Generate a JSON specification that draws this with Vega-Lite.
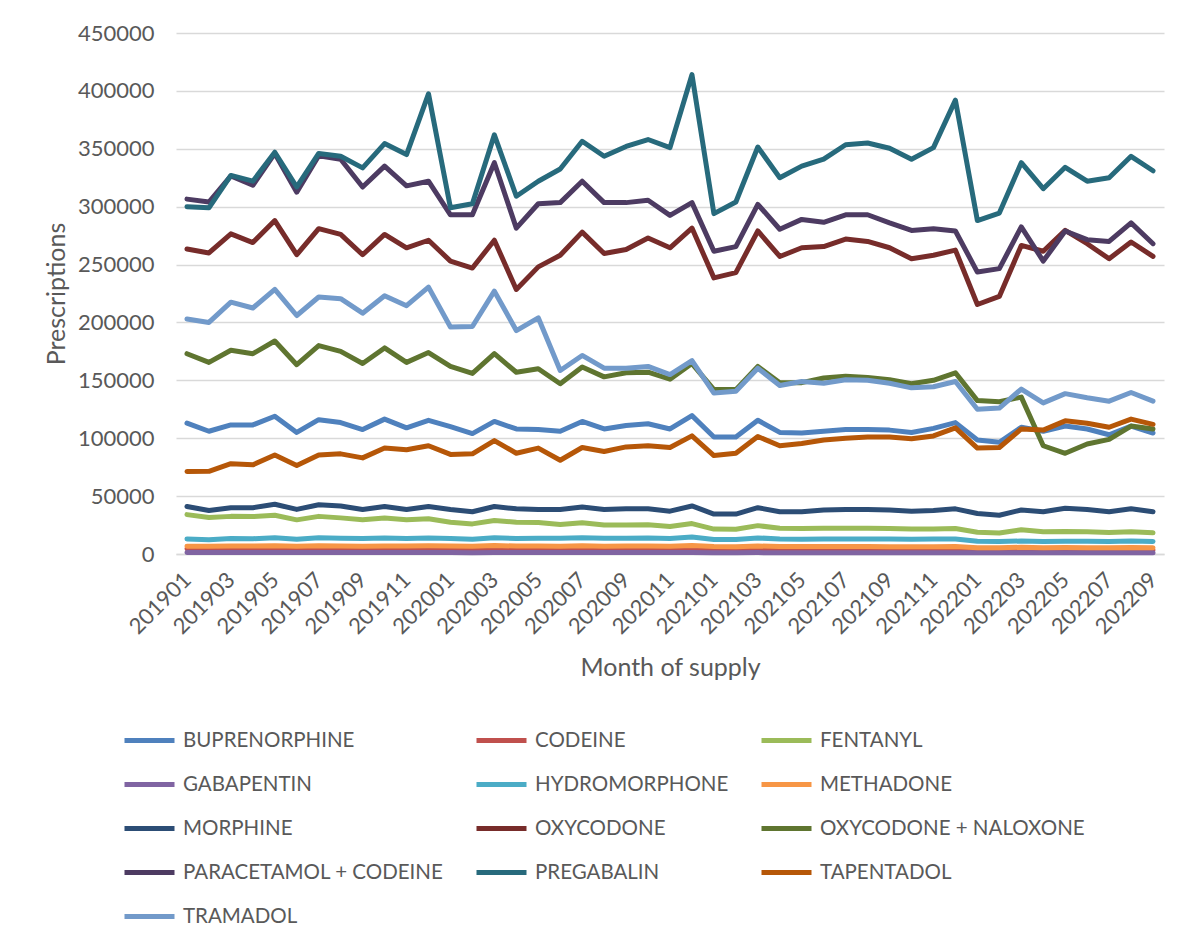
{
  "$schema": "https://vega.github.io/schema/vega-lite/v6.json",
  "autosize": {"type": "none"},
  "padding": {"left": 176, "top": 33, "right": 34, "bottom": 397},
  "width": 988,
  "height": 521,
  "background": "white",
  "config": {
    "font": "Lato",
    "view": {"stroke": null},
    "axis": {"labelColor": "#595959", "titleColor": "#595959", "labelFont": "Lato", "titleFont": "Lato", "titleFontWeight": "normal"},
    "legend": {"labelColor": "#595959", "labelFont": "Lato"}
  },
  "datasets": {
    "rx": [
{"month":"201901","drug":"BUPRENORPHINE","value":113000},{"month":"201902","drug":"BUPRENORPHINE","value":106000},{"month":"201903","drug":"BUPRENORPHINE","value":111500},{"month":"201904","drug":"BUPRENORPHINE","value":111500},{"month":"201905","drug":"BUPRENORPHINE","value":119000},{"month":"201906","drug":"BUPRENORPHINE","value":105000},{"month":"201907","drug":"BUPRENORPHINE","value":116000},{"month":"201908","drug":"BUPRENORPHINE","value":113500},{"month":"201909","drug":"BUPRENORPHINE","value":107500},{"month":"201910","drug":"BUPRENORPHINE","value":116500},{"month":"201911","drug":"BUPRENORPHINE","value":109000},{"month":"201912","drug":"BUPRENORPHINE","value":115500},
{"month":"202001","drug":"BUPRENORPHINE","value":110000},{"month":"202002","drug":"BUPRENORPHINE","value":104000},{"month":"202003","drug":"BUPRENORPHINE","value":114500},{"month":"202004","drug":"BUPRENORPHINE","value":108000},{"month":"202005","drug":"BUPRENORPHINE","value":107500},{"month":"202006","drug":"BUPRENORPHINE","value":106000},{"month":"202007","drug":"BUPRENORPHINE","value":114500},{"month":"202008","drug":"BUPRENORPHINE","value":108000},{"month":"202009","drug":"BUPRENORPHINE","value":111000},{"month":"202010","drug":"BUPRENORPHINE","value":112500},{"month":"202011","drug":"BUPRENORPHINE","value":108000},{"month":"202012","drug":"BUPRENORPHINE","value":119500},
{"month":"202101","drug":"BUPRENORPHINE","value":101000},{"month":"202102","drug":"BUPRENORPHINE","value":101000},{"month":"202103","drug":"BUPRENORPHINE","value":115500},{"month":"202104","drug":"BUPRENORPHINE","value":105000},{"month":"202105","drug":"BUPRENORPHINE","value":104500},{"month":"202106","drug":"BUPRENORPHINE","value":106000},{"month":"202107","drug":"BUPRENORPHINE","value":107500},{"month":"202108","drug":"BUPRENORPHINE","value":107500},{"month":"202109","drug":"BUPRENORPHINE","value":107000},{"month":"202110","drug":"BUPRENORPHINE","value":105000},{"month":"202111","drug":"BUPRENORPHINE","value":108500},{"month":"202112","drug":"BUPRENORPHINE","value":113500},
{"month":"202201","drug":"BUPRENORPHINE","value":98500},{"month":"202202","drug":"BUPRENORPHINE","value":96500},{"month":"202203","drug":"BUPRENORPHINE","value":109500},{"month":"202204","drug":"BUPRENORPHINE","value":106000},{"month":"202205","drug":"BUPRENORPHINE","value":110500},{"month":"202206","drug":"BUPRENORPHINE","value":108000},{"month":"202207","drug":"BUPRENORPHINE","value":103000},{"month":"202208","drug":"BUPRENORPHINE","value":110500},{"month":"202209","drug":"BUPRENORPHINE","value":104500},

{"month":"201901","drug":"CODEINE","value":4500},{"month":"201902","drug":"CODEINE","value":4300},{"month":"201903","drug":"CODEINE","value":4500},{"month":"201904","drug":"CODEINE","value":4400},{"month":"201905","drug":"CODEINE","value":4600},{"month":"201906","drug":"CODEINE","value":4300},{"month":"201907","drug":"CODEINE","value":4500},{"month":"201908","drug":"CODEINE","value":4500},{"month":"201909","drug":"CODEINE","value":4300},{"month":"201910","drug":"CODEINE","value":4500},{"month":"201911","drug":"CODEINE","value":4400},{"month":"201912","drug":"CODEINE","value":4600},
{"month":"202001","drug":"CODEINE","value":4400},{"month":"202002","drug":"CODEINE","value":4200},{"month":"202003","drug":"CODEINE","value":4700},{"month":"202004","drug":"CODEINE","value":4400},{"month":"202005","drug":"CODEINE","value":4400},{"month":"202006","drug":"CODEINE","value":4300},{"month":"202007","drug":"CODEINE","value":4500},{"month":"202008","drug":"CODEINE","value":4300},{"month":"202009","drug":"CODEINE","value":4400},{"month":"202010","drug":"CODEINE","value":4400},{"month":"202011","drug":"CODEINE","value":4300},{"month":"202012","drug":"CODEINE","value":4700},
{"month":"202101","drug":"CODEINE","value":4100},{"month":"202102","drug":"CODEINE","value":4000},{"month":"202103","drug":"CODEINE","value":4400},{"month":"202104","drug":"CODEINE","value":4100},{"month":"202105","drug":"CODEINE","value":4100},{"month":"202106","drug":"CODEINE","value":4100},{"month":"202107","drug":"CODEINE","value":4100},{"month":"202108","drug":"CODEINE","value":4100},{"month":"202109","drug":"CODEINE","value":4000},{"month":"202110","drug":"CODEINE","value":4000},{"month":"202111","drug":"CODEINE","value":4000},{"month":"202112","drug":"CODEINE","value":4100},
{"month":"202201","drug":"CODEINE","value":3600},{"month":"202202","drug":"CODEINE","value":3500},{"month":"202203","drug":"CODEINE","value":3800},{"month":"202204","drug":"CODEINE","value":3600},{"month":"202205","drug":"CODEINE","value":3700},{"month":"202206","drug":"CODEINE","value":3600},{"month":"202207","drug":"CODEINE","value":3500},{"month":"202208","drug":"CODEINE","value":3700},{"month":"202209","drug":"CODEINE","value":3500},

{"month":"201901","drug":"FENTANYL","value":34000},{"month":"201902","drug":"FENTANYL","value":31500},{"month":"201903","drug":"FENTANYL","value":32500},{"month":"201904","drug":"FENTANYL","value":32300},{"month":"201905","drug":"FENTANYL","value":33500},{"month":"201906","drug":"FENTANYL","value":29500},{"month":"201907","drug":"FENTANYL","value":32500},{"month":"201908","drug":"FENTANYL","value":31200},{"month":"201909","drug":"FENTANYL","value":29500},{"month":"201910","drug":"FENTANYL","value":31000},{"month":"201911","drug":"FENTANYL","value":29500},{"month":"201912","drug":"FENTANYL","value":30500},
{"month":"202001","drug":"FENTANYL","value":27500},{"month":"202002","drug":"FENTANYL","value":26000},{"month":"202003","drug":"FENTANYL","value":29000},{"month":"202004","drug":"FENTANYL","value":27500},{"month":"202005","drug":"FENTANYL","value":27200},{"month":"202006","drug":"FENTANYL","value":25500},{"month":"202007","drug":"FENTANYL","value":27000},{"month":"202008","drug":"FENTANYL","value":25000},{"month":"202009","drug":"FENTANYL","value":25000},{"month":"202010","drug":"FENTANYL","value":25200},{"month":"202011","drug":"FENTANYL","value":23800},{"month":"202012","drug":"FENTANYL","value":26300},
{"month":"202101","drug":"FENTANYL","value":21500},{"month":"202102","drug":"FENTANYL","value":21300},{"month":"202103","drug":"FENTANYL","value":24500},{"month":"202104","drug":"FENTANYL","value":22200},{"month":"202105","drug":"FENTANYL","value":22000},{"month":"202106","drug":"FENTANYL","value":22300},{"month":"202107","drug":"FENTANYL","value":22300},{"month":"202108","drug":"FENTANYL","value":22200},{"month":"202109","drug":"FENTANYL","value":22000},{"month":"202110","drug":"FENTANYL","value":21500},{"month":"202111","drug":"FENTANYL","value":21500},{"month":"202112","drug":"FENTANYL","value":22000},
{"month":"202201","drug":"FENTANYL","value":18800},{"month":"202202","drug":"FENTANYL","value":18200},{"month":"202203","drug":"FENTANYL","value":21000},{"month":"202204","drug":"FENTANYL","value":19200},{"month":"202205","drug":"FENTANYL","value":19500},{"month":"202206","drug":"FENTANYL","value":19200},{"month":"202207","drug":"FENTANYL","value":18500},{"month":"202208","drug":"FENTANYL","value":19200},{"month":"202209","drug":"FENTANYL","value":18300},

{"month":"201901","drug":"GABAPENTIN","value":1300},{"month":"201902","drug":"GABAPENTIN","value":1200},{"month":"201903","drug":"GABAPENTIN","value":1300},{"month":"201904","drug":"GABAPENTIN","value":1300},{"month":"201905","drug":"GABAPENTIN","value":1400},{"month":"201906","drug":"GABAPENTIN","value":1200},{"month":"201907","drug":"GABAPENTIN","value":1300},{"month":"201908","drug":"GABAPENTIN","value":1300},{"month":"201909","drug":"GABAPENTIN","value":1200},{"month":"201910","drug":"GABAPENTIN","value":1300},{"month":"201911","drug":"GABAPENTIN","value":1200},{"month":"201912","drug":"GABAPENTIN","value":1300},
{"month":"202001","drug":"GABAPENTIN","value":1200},{"month":"202002","drug":"GABAPENTIN","value":1100},{"month":"202003","drug":"GABAPENTIN","value":1300},{"month":"202004","drug":"GABAPENTIN","value":1200},{"month":"202005","drug":"GABAPENTIN","value":1200},{"month":"202006","drug":"GABAPENTIN","value":1200},{"month":"202007","drug":"GABAPENTIN","value":1300},{"month":"202008","drug":"GABAPENTIN","value":1200},{"month":"202009","drug":"GABAPENTIN","value":1200},{"month":"202010","drug":"GABAPENTIN","value":1200},{"month":"202011","drug":"GABAPENTIN","value":1200},{"month":"202012","drug":"GABAPENTIN","value":1300},
{"month":"202101","drug":"GABAPENTIN","value":1100},{"month":"202102","drug":"GABAPENTIN","value":1100},{"month":"202103","drug":"GABAPENTIN","value":1200},{"month":"202104","drug":"GABAPENTIN","value":1100},{"month":"202105","drug":"GABAPENTIN","value":1100},{"month":"202106","drug":"GABAPENTIN","value":1100},{"month":"202107","drug":"GABAPENTIN","value":1100},{"month":"202108","drug":"GABAPENTIN","value":1100},{"month":"202109","drug":"GABAPENTIN","value":1100},{"month":"202110","drug":"GABAPENTIN","value":1100},{"month":"202111","drug":"GABAPENTIN","value":1100},{"month":"202112","drug":"GABAPENTIN","value":1100},
{"month":"202201","drug":"GABAPENTIN","value":1000},{"month":"202202","drug":"GABAPENTIN","value":1000},{"month":"202203","drug":"GABAPENTIN","value":1100},{"month":"202204","drug":"GABAPENTIN","value":1000},{"month":"202205","drug":"GABAPENTIN","value":1000},{"month":"202206","drug":"GABAPENTIN","value":1000},{"month":"202207","drug":"GABAPENTIN","value":1000},{"month":"202208","drug":"GABAPENTIN","value":1000},{"month":"202209","drug":"GABAPENTIN","value":1000},

{"month":"201901","drug":"HYDROMORPHONE","value":13000},{"month":"201902","drug":"HYDROMORPHONE","value":12400},{"month":"201903","drug":"HYDROMORPHONE","value":13300},{"month":"201904","drug":"HYDROMORPHONE","value":13200},{"month":"201905","drug":"HYDROMORPHONE","value":14000},{"month":"201906","drug":"HYDROMORPHONE","value":12800},{"month":"201907","drug":"HYDROMORPHONE","value":14000},{"month":"201908","drug":"HYDROMORPHONE","value":13700},{"month":"201909","drug":"HYDROMORPHONE","value":13400},{"month":"201910","drug":"HYDROMORPHONE","value":13800},{"month":"201911","drug":"HYDROMORPHONE","value":13300},{"month":"201912","drug":"HYDROMORPHONE","value":13900},
{"month":"202001","drug":"HYDROMORPHONE","value":13300},{"month":"202002","drug":"HYDROMORPHONE","value":12800},{"month":"202003","drug":"HYDROMORPHONE","value":14000},{"month":"202004","drug":"HYDROMORPHONE","value":13400},{"month":"202005","drug":"HYDROMORPHONE","value":13600},{"month":"202006","drug":"HYDROMORPHONE","value":13600},{"month":"202007","drug":"HYDROMORPHONE","value":14100},{"month":"202008","drug":"HYDROMORPHONE","value":13600},{"month":"202009","drug":"HYDROMORPHONE","value":13700},{"month":"202010","drug":"HYDROMORPHONE","value":13800},{"month":"202011","drug":"HYDROMORPHONE","value":13400},{"month":"202012","drug":"HYDROMORPHONE","value":14700},
{"month":"202101","drug":"HYDROMORPHONE","value":12600},{"month":"202102","drug":"HYDROMORPHONE","value":12500},{"month":"202103","drug":"HYDROMORPHONE","value":13900},{"month":"202104","drug":"HYDROMORPHONE","value":12900},{"month":"202105","drug":"HYDROMORPHONE","value":12800},{"month":"202106","drug":"HYDROMORPHONE","value":12900},{"month":"202107","drug":"HYDROMORPHONE","value":12900},{"month":"202108","drug":"HYDROMORPHONE","value":12900},{"month":"202109","drug":"HYDROMORPHONE","value":12900},{"month":"202110","drug":"HYDROMORPHONE","value":12800},{"month":"202111","drug":"HYDROMORPHONE","value":12900},{"month":"202112","drug":"HYDROMORPHONE","value":13000},
{"month":"202201","drug":"HYDROMORPHONE","value":11100},{"month":"202202","drug":"HYDROMORPHONE","value":10700},{"month":"202203","drug":"HYDROMORPHONE","value":11200},{"month":"202204","drug":"HYDROMORPHONE","value":10900},{"month":"202205","drug":"HYDROMORPHONE","value":11100},{"month":"202206","drug":"HYDROMORPHONE","value":11100},{"month":"202207","drug":"HYDROMORPHONE","value":10900},{"month":"202208","drug":"HYDROMORPHONE","value":11200},{"month":"202209","drug":"HYDROMORPHONE","value":10900},

{"month":"201901","drug":"METHADONE","value":6800},{"month":"201902","drug":"METHADONE","value":6700},{"month":"201903","drug":"METHADONE","value":6900},{"month":"201904","drug":"METHADONE","value":6900},{"month":"201905","drug":"METHADONE","value":7100},{"month":"201906","drug":"METHADONE","value":6700},{"month":"201907","drug":"METHADONE","value":7100},{"month":"201908","drug":"METHADONE","value":7000},{"month":"201909","drug":"METHADONE","value":6800},{"month":"201910","drug":"METHADONE","value":7000},{"month":"201911","drug":"METHADONE","value":6900},{"month":"201912","drug":"METHADONE","value":7100},
{"month":"202001","drug":"METHADONE","value":6900},{"month":"202002","drug":"METHADONE","value":6700},{"month":"202003","drug":"METHADONE","value":7300},{"month":"202004","drug":"METHADONE","value":6900},{"month":"202005","drug":"METHADONE","value":6900},{"month":"202006","drug":"METHADONE","value":6800},{"month":"202007","drug":"METHADONE","value":7100},{"month":"202008","drug":"METHADONE","value":6800},{"month":"202009","drug":"METHADONE","value":6900},{"month":"202010","drug":"METHADONE","value":6900},{"month":"202011","drug":"METHADONE","value":6800},{"month":"202012","drug":"METHADONE","value":7300},
{"month":"202101","drug":"METHADONE","value":6400},{"month":"202102","drug":"METHADONE","value":6300},{"month":"202103","drug":"METHADONE","value":6900},{"month":"202104","drug":"METHADONE","value":6500},{"month":"202105","drug":"METHADONE","value":6400},{"month":"202106","drug":"METHADONE","value":6400},{"month":"202107","drug":"METHADONE","value":6400},{"month":"202108","drug":"METHADONE","value":6400},{"month":"202109","drug":"METHADONE","value":6300},{"month":"202110","drug":"METHADONE","value":6200},{"month":"202111","drug":"METHADONE","value":6200},{"month":"202112","drug":"METHADONE","value":6400},
{"month":"202201","drug":"METHADONE","value":5500},{"month":"202202","drug":"METHADONE","value":5300},{"month":"202203","drug":"METHADONE","value":5800},{"month":"202204","drug":"METHADONE","value":5500},{"month":"202205","drug":"METHADONE","value":5600},{"month":"202206","drug":"METHADONE","value":5500},{"month":"202207","drug":"METHADONE","value":5400},{"month":"202208","drug":"METHADONE","value":5700},{"month":"202209","drug":"METHADONE","value":5400},

{"month":"201901","drug":"MORPHINE","value":41000},{"month":"201902","drug":"MORPHINE","value":37500},{"month":"201903","drug":"MORPHINE","value":40000},{"month":"201904","drug":"MORPHINE","value":40000},{"month":"201905","drug":"MORPHINE","value":43000},{"month":"201906","drug":"MORPHINE","value":38500},{"month":"201907","drug":"MORPHINE","value":42500},{"month":"201908","drug":"MORPHINE","value":41500},{"month":"201909","drug":"MORPHINE","value":38500},{"month":"201910","drug":"MORPHINE","value":41000},{"month":"201911","drug":"MORPHINE","value":38500},{"month":"201912","drug":"MORPHINE","value":41000},
{"month":"202001","drug":"MORPHINE","value":38500},{"month":"202002","drug":"MORPHINE","value":36500},{"month":"202003","drug":"MORPHINE","value":41000},{"month":"202004","drug":"MORPHINE","value":39000},{"month":"202005","drug":"MORPHINE","value":38500},{"month":"202006","drug":"MORPHINE","value":38500},{"month":"202007","drug":"MORPHINE","value":40500},{"month":"202008","drug":"MORPHINE","value":38500},{"month":"202009","drug":"MORPHINE","value":39000},{"month":"202010","drug":"MORPHINE","value":39000},{"month":"202011","drug":"MORPHINE","value":37000},{"month":"202012","drug":"MORPHINE","value":41500},
{"month":"202101","drug":"MORPHINE","value":34500},{"month":"202102","drug":"MORPHINE","value":34500},{"month":"202103","drug":"MORPHINE","value":40000},{"month":"202104","drug":"MORPHINE","value":36500},{"month":"202105","drug":"MORPHINE","value":36500},{"month":"202106","drug":"MORPHINE","value":38000},{"month":"202107","drug":"MORPHINE","value":38500},{"month":"202108","drug":"MORPHINE","value":38500},{"month":"202109","drug":"MORPHINE","value":38000},{"month":"202110","drug":"MORPHINE","value":37000},{"month":"202111","drug":"MORPHINE","value":37500},{"month":"202112","drug":"MORPHINE","value":39000},
{"month":"202201","drug":"MORPHINE","value":35000},{"month":"202202","drug":"MORPHINE","value":33500},{"month":"202203","drug":"MORPHINE","value":38000},{"month":"202204","drug":"MORPHINE","value":36500},{"month":"202205","drug":"MORPHINE","value":39500},{"month":"202206","drug":"MORPHINE","value":38500},{"month":"202207","drug":"MORPHINE","value":36500},{"month":"202208","drug":"MORPHINE","value":39000},{"month":"202209","drug":"MORPHINE","value":36500},

{"month":"201901","drug":"OXYCODONE","value":263500},{"month":"201902","drug":"OXYCODONE","value":260000},{"month":"201903","drug":"OXYCODONE","value":276500},{"month":"201904","drug":"OXYCODONE","value":269000},{"month":"201905","drug":"OXYCODONE","value":288000},{"month":"201906","drug":"OXYCODONE","value":258500},{"month":"201907","drug":"OXYCODONE","value":281000},{"month":"201908","drug":"OXYCODONE","value":276000},{"month":"201909","drug":"OXYCODONE","value":258500},{"month":"201910","drug":"OXYCODONE","value":276000},{"month":"201911","drug":"OXYCODONE","value":264500},{"month":"201912","drug":"OXYCODONE","value":271000},
{"month":"202001","drug":"OXYCODONE","value":253000},{"month":"202002","drug":"OXYCODONE","value":247000},{"month":"202003","drug":"OXYCODONE","value":271000},{"month":"202004","drug":"OXYCODONE","value":228500},{"month":"202005","drug":"OXYCODONE","value":248000},{"month":"202006","drug":"OXYCODONE","value":258000},{"month":"202007","drug":"OXYCODONE","value":278000},{"month":"202008","drug":"OXYCODONE","value":259500},{"month":"202009","drug":"OXYCODONE","value":263000},{"month":"202010","drug":"OXYCODONE","value":273000},{"month":"202011","drug":"OXYCODONE","value":264500},{"month":"202012","drug":"OXYCODONE","value":281500},
{"month":"202101","drug":"OXYCODONE","value":238500},{"month":"202102","drug":"OXYCODONE","value":243000},{"month":"202103","drug":"OXYCODONE","value":279000},{"month":"202104","drug":"OXYCODONE","value":257000},{"month":"202105","drug":"OXYCODONE","value":264500},{"month":"202106","drug":"OXYCODONE","value":265500},{"month":"202107","drug":"OXYCODONE","value":272000},{"month":"202108","drug":"OXYCODONE","value":270000},{"month":"202109","drug":"OXYCODONE","value":264500},{"month":"202110","drug":"OXYCODONE","value":255000},{"month":"202111","drug":"OXYCODONE","value":258000},{"month":"202112","drug":"OXYCODONE","value":262500},
{"month":"202201","drug":"OXYCODONE","value":215500},{"month":"202202","drug":"OXYCODONE","value":222500},{"month":"202203","drug":"OXYCODONE","value":266500},{"month":"202204","drug":"OXYCODONE","value":261500},{"month":"202205","drug":"OXYCODONE","value":279500},{"month":"202206","drug":"OXYCODONE","value":268000},{"month":"202207","drug":"OXYCODONE","value":255000},{"month":"202208","drug":"OXYCODONE","value":269500},{"month":"202209","drug":"OXYCODONE","value":257000},

{"month":"201901","drug":"OXYCODONE + NALOXONE","value":173000},{"month":"201902","drug":"OXYCODONE + NALOXONE","value":165500},{"month":"201903","drug":"OXYCODONE + NALOXONE","value":176000},{"month":"201904","drug":"OXYCODONE + NALOXONE","value":173000},{"month":"201905","drug":"OXYCODONE + NALOXONE","value":184000},{"month":"201906","drug":"OXYCODONE + NALOXONE","value":163500},{"month":"201907","drug":"OXYCODONE + NALOXONE","value":180000},{"month":"201908","drug":"OXYCODONE + NALOXONE","value":175000},{"month":"201909","drug":"OXYCODONE + NALOXONE","value":164500},{"month":"201910","drug":"OXYCODONE + NALOXONE","value":178000},{"month":"201911","drug":"OXYCODONE + NALOXONE","value":165500},{"month":"201912","drug":"OXYCODONE + NALOXONE","value":174000},
{"month":"202001","drug":"OXYCODONE + NALOXONE","value":162000},{"month":"202002","drug":"OXYCODONE + NALOXONE","value":156000},{"month":"202003","drug":"OXYCODONE + NALOXONE","value":173000},{"month":"202004","drug":"OXYCODONE + NALOXONE","value":157000},{"month":"202005","drug":"OXYCODONE + NALOXONE","value":160000},{"month":"202006","drug":"OXYCODONE + NALOXONE","value":147000},{"month":"202007","drug":"OXYCODONE + NALOXONE","value":161500},{"month":"202008","drug":"OXYCODONE + NALOXONE","value":153000},{"month":"202009","drug":"OXYCODONE + NALOXONE","value":156500},{"month":"202010","drug":"OXYCODONE + NALOXONE","value":157000},{"month":"202011","drug":"OXYCODONE + NALOXONE","value":151000},{"month":"202012","drug":"OXYCODONE + NALOXONE","value":164500},
{"month":"202101","drug":"OXYCODONE + NALOXONE","value":142000},{"month":"202102","drug":"OXYCODONE + NALOXONE","value":142000},{"month":"202103","drug":"OXYCODONE + NALOXONE","value":162000},{"month":"202104","drug":"OXYCODONE + NALOXONE","value":148000},{"month":"202105","drug":"OXYCODONE + NALOXONE","value":148000},{"month":"202106","drug":"OXYCODONE + NALOXONE","value":152000},{"month":"202107","drug":"OXYCODONE + NALOXONE","value":153500},{"month":"202108","drug":"OXYCODONE + NALOXONE","value":152500},{"month":"202109","drug":"OXYCODONE + NALOXONE","value":150500},{"month":"202110","drug":"OXYCODONE + NALOXONE","value":147000},{"month":"202111","drug":"OXYCODONE + NALOXONE","value":150000},{"month":"202112","drug":"OXYCODONE + NALOXONE","value":156500},
{"month":"202201","drug":"OXYCODONE + NALOXONE","value":132500},{"month":"202202","drug":"OXYCODONE + NALOXONE","value":131500},{"month":"202203","drug":"OXYCODONE + NALOXONE","value":135500},{"month":"202204","drug":"OXYCODONE + NALOXONE","value":93500},{"month":"202205","drug":"OXYCODONE + NALOXONE","value":87000},{"month":"202206","drug":"OXYCODONE + NALOXONE","value":95000},{"month":"202207","drug":"OXYCODONE + NALOXONE","value":99000},{"month":"202208","drug":"OXYCODONE + NALOXONE","value":110500},{"month":"202209","drug":"OXYCODONE + NALOXONE","value":108000},

{"month":"201901","drug":"PARACETAMOL + CODEINE","value":306500},{"month":"201902","drug":"PARACETAMOL + CODEINE","value":304000},{"month":"201903","drug":"PARACETAMOL + CODEINE","value":326500},{"month":"201904","drug":"PARACETAMOL + CODEINE","value":318500},{"month":"201905","drug":"PARACETAMOL + CODEINE","value":346000},{"month":"201906","drug":"PARACETAMOL + CODEINE","value":312500},{"month":"201907","drug":"PARACETAMOL + CODEINE","value":344000},{"month":"201908","drug":"PARACETAMOL + CODEINE","value":341000},{"month":"201909","drug":"PARACETAMOL + CODEINE","value":317000},{"month":"201910","drug":"PARACETAMOL + CODEINE","value":335000},{"month":"201911","drug":"PARACETAMOL + CODEINE","value":318000},{"month":"201912","drug":"PARACETAMOL + CODEINE","value":322000},
{"month":"202001","drug":"PARACETAMOL + CODEINE","value":293000},{"month":"202002","drug":"PARACETAMOL + CODEINE","value":293000},{"month":"202003","drug":"PARACETAMOL + CODEINE","value":338000},{"month":"202004","drug":"PARACETAMOL + CODEINE","value":281500},{"month":"202005","drug":"PARACETAMOL + CODEINE","value":302500},{"month":"202006","drug":"PARACETAMOL + CODEINE","value":303500},{"month":"202007","drug":"PARACETAMOL + CODEINE","value":322000},{"month":"202008","drug":"PARACETAMOL + CODEINE","value":303500},{"month":"202009","drug":"PARACETAMOL + CODEINE","value":303500},{"month":"202010","drug":"PARACETAMOL + CODEINE","value":305500},{"month":"202011","drug":"PARACETAMOL + CODEINE","value":292500},{"month":"202012","drug":"PARACETAMOL + CODEINE","value":303500},
{"month":"202101","drug":"PARACETAMOL + CODEINE","value":261500},{"month":"202102","drug":"PARACETAMOL + CODEINE","value":265500},{"month":"202103","drug":"PARACETAMOL + CODEINE","value":302000},{"month":"202104","drug":"PARACETAMOL + CODEINE","value":280500},{"month":"202105","drug":"PARACETAMOL + CODEINE","value":289000},{"month":"202106","drug":"PARACETAMOL + CODEINE","value":286500},{"month":"202107","drug":"PARACETAMOL + CODEINE","value":293000},{"month":"202108","drug":"PARACETAMOL + CODEINE","value":293000},{"month":"202109","drug":"PARACETAMOL + CODEINE","value":286000},{"month":"202110","drug":"PARACETAMOL + CODEINE","value":279500},{"month":"202111","drug":"PARACETAMOL + CODEINE","value":281000},{"month":"202112","drug":"PARACETAMOL + CODEINE","value":279000},
{"month":"202201","drug":"PARACETAMOL + CODEINE","value":243500},{"month":"202202","drug":"PARACETAMOL + CODEINE","value":246500},{"month":"202203","drug":"PARACETAMOL + CODEINE","value":282500},{"month":"202204","drug":"PARACETAMOL + CODEINE","value":253000},{"month":"202205","drug":"PARACETAMOL + CODEINE","value":279000},{"month":"202206","drug":"PARACETAMOL + CODEINE","value":271500},{"month":"202207","drug":"PARACETAMOL + CODEINE","value":270000},{"month":"202208","drug":"PARACETAMOL + CODEINE","value":286000},{"month":"202209","drug":"PARACETAMOL + CODEINE","value":268000},

{"month":"201901","drug":"PREGABALIN","value":300000},{"month":"201902","drug":"PREGABALIN","value":299000},{"month":"201903","drug":"PREGABALIN","value":327000},{"month":"201904","drug":"PREGABALIN","value":322000},{"month":"201905","drug":"PREGABALIN","value":347000},{"month":"201906","drug":"PREGABALIN","value":317000},{"month":"201907","drug":"PREGABALIN","value":346000},{"month":"201908","drug":"PREGABALIN","value":343500},{"month":"201909","drug":"PREGABALIN","value":333500},{"month":"201910","drug":"PREGABALIN","value":354500},{"month":"201911","drug":"PREGABALIN","value":345000},{"month":"201912","drug":"PREGABALIN","value":397500},
{"month":"202001","drug":"PREGABALIN","value":299000},{"month":"202002","drug":"PREGABALIN","value":302500},{"month":"202003","drug":"PREGABALIN","value":362000},{"month":"202004","drug":"PREGABALIN","value":309000},{"month":"202005","drug":"PREGABALIN","value":322000},{"month":"202006","drug":"PREGABALIN","value":332500},{"month":"202007","drug":"PREGABALIN","value":356500},{"month":"202008","drug":"PREGABALIN","value":343500},{"month":"202009","drug":"PREGABALIN","value":352000},{"month":"202010","drug":"PREGABALIN","value":358000},{"month":"202011","drug":"PREGABALIN","value":351000},{"month":"202012","drug":"PREGABALIN","value":414000},
{"month":"202101","drug":"PREGABALIN","value":294000},{"month":"202102","drug":"PREGABALIN","value":304000},{"month":"202103","drug":"PREGABALIN","value":351500},{"month":"202104","drug":"PREGABALIN","value":325000},{"month":"202105","drug":"PREGABALIN","value":335000},{"month":"202106","drug":"PREGABALIN","value":341000},{"month":"202107","drug":"PREGABALIN","value":353500},{"month":"202108","drug":"PREGABALIN","value":355000},{"month":"202109","drug":"PREGABALIN","value":350500},{"month":"202110","drug":"PREGABALIN","value":341000},{"month":"202111","drug":"PREGABALIN","value":351000},{"month":"202112","drug":"PREGABALIN","value":392000},
{"month":"202201","drug":"PREGABALIN","value":288000},{"month":"202202","drug":"PREGABALIN","value":294500},{"month":"202203","drug":"PREGABALIN","value":338000},{"month":"202204","drug":"PREGABALIN","value":315500},{"month":"202205","drug":"PREGABALIN","value":334000},{"month":"202206","drug":"PREGABALIN","value":322000},{"month":"202207","drug":"PREGABALIN","value":325000},{"month":"202208","drug":"PREGABALIN","value":343500},{"month":"202209","drug":"PREGABALIN","value":331000},

{"month":"201901","drug":"TAPENTADOL","value":71200},{"month":"201902","drug":"TAPENTADOL","value":71400},{"month":"201903","drug":"TAPENTADOL","value":78000},{"month":"201904","drug":"TAPENTADOL","value":77000},{"month":"201905","drug":"TAPENTADOL","value":85500},{"month":"201906","drug":"TAPENTADOL","value":76500},{"month":"201907","drug":"TAPENTADOL","value":85500},{"month":"201908","drug":"TAPENTADOL","value":86500},{"month":"201909","drug":"TAPENTADOL","value":83000},{"month":"201910","drug":"TAPENTADOL","value":91500},{"month":"201911","drug":"TAPENTADOL","value":90000},{"month":"201912","drug":"TAPENTADOL","value":93500},
{"month":"202001","drug":"TAPENTADOL","value":86000},{"month":"202002","drug":"TAPENTADOL","value":86500},{"month":"202003","drug":"TAPENTADOL","value":98000},{"month":"202004","drug":"TAPENTADOL","value":87000},{"month":"202005","drug":"TAPENTADOL","value":91500},{"month":"202006","drug":"TAPENTADOL","value":81000},{"month":"202007","drug":"TAPENTADOL","value":92000},{"month":"202008","drug":"TAPENTADOL","value":88500},{"month":"202009","drug":"TAPENTADOL","value":92500},{"month":"202010","drug":"TAPENTADOL","value":93500},{"month":"202011","drug":"TAPENTADOL","value":92000},{"month":"202012","drug":"TAPENTADOL","value":102000},
{"month":"202101","drug":"TAPENTADOL","value":85000},{"month":"202102","drug":"TAPENTADOL","value":87000},{"month":"202103","drug":"TAPENTADOL","value":101500},{"month":"202104","drug":"TAPENTADOL","value":93500},{"month":"202105","drug":"TAPENTADOL","value":95500},{"month":"202106","drug":"TAPENTADOL","value":98500},{"month":"202107","drug":"TAPENTADOL","value":100000},{"month":"202108","drug":"TAPENTADOL","value":101000},{"month":"202109","drug":"TAPENTADOL","value":101000},{"month":"202110","drug":"TAPENTADOL","value":99500},{"month":"202111","drug":"TAPENTADOL","value":102000},{"month":"202112","drug":"TAPENTADOL","value":109000},
{"month":"202201","drug":"TAPENTADOL","value":91500},{"month":"202202","drug":"TAPENTADOL","value":92000},{"month":"202203","drug":"TAPENTADOL","value":108000},{"month":"202204","drug":"TAPENTADOL","value":107000},{"month":"202205","drug":"TAPENTADOL","value":115000},{"month":"202206","drug":"TAPENTADOL","value":113000},{"month":"202207","drug":"TAPENTADOL","value":109500},{"month":"202208","drug":"TAPENTADOL","value":116500},{"month":"202209","drug":"TAPENTADOL","value":112000},

{"month":"201901","drug":"TRAMADOL","value":203000},{"month":"201902","drug":"TRAMADOL","value":200000},{"month":"201903","drug":"TRAMADOL","value":217500},{"month":"201904","drug":"TRAMADOL","value":212500},{"month":"201905","drug":"TRAMADOL","value":228500},{"month":"201906","drug":"TRAMADOL","value":206000},{"month":"201907","drug":"TRAMADOL","value":222000},{"month":"201908","drug":"TRAMADOL","value":220500},{"month":"201909","drug":"TRAMADOL","value":208000},{"month":"201910","drug":"TRAMADOL","value":223000},{"month":"201911","drug":"TRAMADOL","value":214500},{"month":"201912","drug":"TRAMADOL","value":230500},
{"month":"202001","drug":"TRAMADOL","value":196000},{"month":"202002","drug":"TRAMADOL","value":196500},{"month":"202003","drug":"TRAMADOL","value":227000},{"month":"202004","drug":"TRAMADOL","value":193000},{"month":"202005","drug":"TRAMADOL","value":204000},{"month":"202006","drug":"TRAMADOL","value":158500},{"month":"202007","drug":"TRAMADOL","value":171500},{"month":"202008","drug":"TRAMADOL","value":160500},{"month":"202009","drug":"TRAMADOL","value":160500},{"month":"202010","drug":"TRAMADOL","value":162000},{"month":"202011","drug":"TRAMADOL","value":155000},{"month":"202012","drug":"TRAMADOL","value":167000},
{"month":"202101","drug":"TRAMADOL","value":139000},{"month":"202102","drug":"TRAMADOL","value":140500},{"month":"202103","drug":"TRAMADOL","value":160500},{"month":"202104","drug":"TRAMADOL","value":145500},{"month":"202105","drug":"TRAMADOL","value":149000},{"month":"202106","drug":"TRAMADOL","value":147500},{"month":"202107","drug":"TRAMADOL","value":150500},{"month":"202108","drug":"TRAMADOL","value":150000},{"month":"202109","drug":"TRAMADOL","value":147500},{"month":"202110","drug":"TRAMADOL","value":143500},{"month":"202111","drug":"TRAMADOL","value":144500},{"month":"202112","drug":"TRAMADOL","value":149000},
{"month":"202201","drug":"TRAMADOL","value":125000},{"month":"202202","drug":"TRAMADOL","value":126000},{"month":"202203","drug":"TRAMADOL","value":142500},{"month":"202204","drug":"TRAMADOL","value":130500},{"month":"202205","drug":"TRAMADOL","value":138500},{"month":"202206","drug":"TRAMADOL","value":135000},{"month":"202207","drug":"TRAMADOL","value":132000},{"month":"202208","drug":"TRAMADOL","value":139500},{"month":"202209","drug":"TRAMADOL","value":132000}
    ]
  },
  "data": {"name": "rx"},
  "mark": {"type": "line", "strokeWidth": 5, "strokeCap": "round", "strokeJoin": "round"},
  "encoding": {
    "x": {
      "field": "month", "type": "ordinal", "title": "Month of supply",
      "scale": {"type": "point", "padding": 0.5},
      "axis": {
        "values": ["201901","201903","201905","201907","201909","201911","202001","202003","202005","202007","202009","202011","202101","202103","202105","202107","202109","202111","202201","202203","202205","202207","202209"],
        "labelAngle": -45, "labelAlign": "right", "labelBaseline": "middle", "labelFontSize": 22, "labelPadding": 22,
        "ticks": false, "domain": true, "domainColor": "#d9d9d9", "domainWidth": 1.3, "grid": false,
        "titleFontSize": 25, "titlePadding": 18, "labelOverlap": false
      }
    },
    "y": {
      "field": "value", "type": "quantitative", "title": "Prescriptions",
      "scale": {"domain": [0, 450000], "nice": false},
      "axis": {
        "values": [0,50000,100000,150000,200000,250000,300000,350000,400000,450000],
        "format": "d", "labelFontSize": 22, "labelPadding": 22, "ticks": false, "domain": false,
        "grid": true, "gridColor": "#d9d9d9", "gridWidth": 1.3,
        "titleFontSize": 25, "titlePadding": 8
      }
    },
    "color": {
      "field": "drug", "type": "nominal",
      "scale": {
        "domain": ["BUPRENORPHINE","CODEINE","FENTANYL","GABAPENTIN","HYDROMORPHONE","METHADONE","MORPHINE","OXYCODONE","OXYCODONE + NALOXONE","PARACETAMOL + CODEINE","PREGABALIN","TAPENTADOL","TRAMADOL"],
        "range": ["#4F81BD","#C0504D","#9BBB59","#8064A2","#4BACC6","#F79646","#2C4D75","#772C2A","#5F7530","#4D3B62","#276A7C","#B65708","#729ACA"]
      },
      "legend": {
        "title": null, "orient": "none", "legendX": -54, "legendY": 680,
        "direction": "horizontal", "columns": 3, "columnPadding": 22, "rowPadding": 6,
        "symbolType": "stroke", "symbolSize": 2500, "symbolStrokeWidth": 5,
        "labelFontSize": 20.5, "labelOffset": 6, "labelLimit": 400
      }
    }
  }
}
